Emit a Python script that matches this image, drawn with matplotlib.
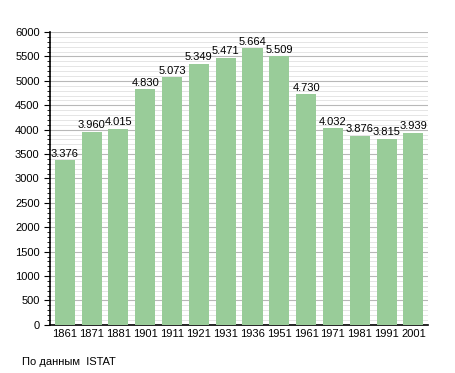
import matplotlib.pyplot as plt
from matplotlib.ticker import MultipleLocator

plt.rcParams['font.family'] = ['Liberation Sans', 'DejaVu Sans']

years = ['1861', '1871', '1881', '1901', '1911', '1921', '1931',
         '1936', '1951', '1961', '1971', '1981', '1991', '2001']
population = [3376, 3960, 4015, 4830, 5073, 5349, 5471,
              5664, 5509, 4730, 4032, 3876, 3815, 3939]
value_labels = ['3.376', '3.960', '4.015', '4.830', '5.073', '5.349', '5.471',
                '5.664', '5.509', '4.730', '4.032', '3.876', '3.815', '3.939']

fig = plt.figure(figsize=(4.55, 3.73), dpi=100)
ax = fig.add_axes([0.11, 0.129, 0.831, 0.785])

x = range(len(years))
ax.bar(x, population, width=0.75, color='#99cc99', zorder=3)
for xi, v, lab in zip(x, population, value_labels):
    ax.text(xi, v + 30, lab, ha='center', va='bottom', fontsize=8, zorder=4)

ax.set_xlim(-0.55, len(years) - 0.45)
ax.set_ylim(0, 6000)
ax.set_xticks(list(x))
ax.set_xticklabels(years, fontsize=8)
ax.yaxis.set_major_locator(MultipleLocator(500))
ax.yaxis.set_minor_locator(MultipleLocator(100))
ax.tick_params(axis='y', labelsize=8, length=4, direction='out')
ax.tick_params(axis='y', which='minor', length=2)
ax.tick_params(axis='x', length=0, pad=3)

ax.grid(axis='y', which='major', color='#b8b8b8', linewidth=0.8, zorder=0)
ax.grid(axis='y', which='minor', color='#e0e0e0', linewidth=0.6, zorder=0)

for s in ['top', 'right']:
    ax.spines[s].set_visible(False)
ax.spines['left'].set_linewidth(1.2)
ax.spines['bottom'].set_linewidth(1.2)

fig.text(22 / 455, 1 - 362 / 373, 'По данным  ISTAT', fontsize=8, va='center')

fig.savefig('out.png', dpi=100)
